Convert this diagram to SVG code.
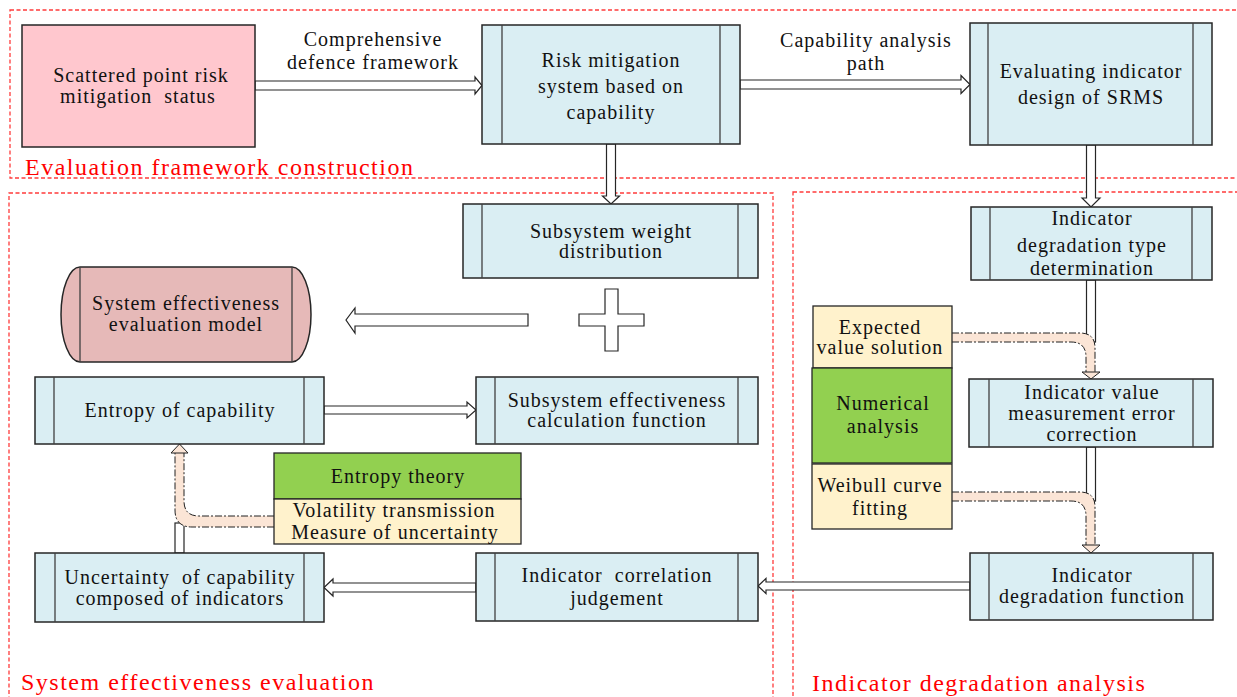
<svg xmlns="http://www.w3.org/2000/svg" width="1237" height="697" viewBox="0 0 1237 697">
  <style>
    .t { font-family: "Liberation Serif", "Times New Roman", serif; font-size: 20px; fill: #111; text-anchor: middle; letter-spacing: 1px; white-space: pre; }
    .lbl { font-family: "Liberation Serif", "Times New Roman", serif; font-size: 24px; fill: #FF0000; letter-spacing: 1.5px; }
    .region { fill: none; stroke: #FF3B3B; stroke-width: 1.3; stroke-dasharray: 4 2.5; }
    .box { fill: #DAEEF3; stroke: #262626; stroke-width: 1.5; }
    .bar { stroke: #404040; stroke-width: 1.3; }
    .hollow { fill: #FFFFFF; stroke: #262626; stroke-width: 1.2; stroke-linejoin: miter; }
    .band { fill: #FBE5D6; stroke: none; }
    .dashdot { fill: none; stroke: #222; stroke-width: 1; stroke-dasharray: 7 2 2 2; }
    .head { fill: #FBE5D6; stroke: #222; stroke-width: 1; }
  </style>

  <!-- section frames and titles -->
  <g id="regions">
    <rect class="region" x="10" y="10" width="1240" height="168"/>
    <rect class="region" x="9" y="193" width="764" height="520"/>
    <rect class="region" x="793" y="192" width="460" height="520"/>
    <text class="lbl" x="25" y="175">Evaluation framework construction</text>
    <text class="lbl" x="21" y="690">System effectiveness evaluation</text>
    <text class="lbl" x="812" y="691">Indicator degradation analysis</text>
  </g>

  <!-- flows between blocks -->
  <g id="connectors">
    <!-- top row -->
    <polygon class="hollow" points="255,81 475,81 475,77 482,85.5 475,94 475,90 255,90"/>
    <text class="t" x="373" y="46">Comprehensive</text>
    <text class="t" x="373" y="69">defence framework</text>
    <polygon class="hollow" points="740,80 961,80 961,75.5 970,84.5 961,93.5 961,89 740,89"/>
    <text class="t" x="866" y="47">Capability analysis</text>
    <text class="t" x="866" y="70">path</text>
    <!-- downward arrows from the top row -->
    <polygon class="hollow" points="606.5,144 615.5,144 615.5,196 619.5,196 611,204 602.5,196 606.5,196"/>
    <polygon class="hollow" points="1086.5,145 1095.5,145 1095.5,198 1100,198 1091,207 1082,198 1086.5,198"/>
    <!-- right column shafts -->
    <rect class="hollow" x="1086.5" y="280" width="9" height="62"/>
    <rect class="hollow" x="1086.5" y="447" width="9" height="54"/>
    <!-- left column -->
    <polygon class="hollow" points="324,406 467,406 467,402 476,410 467,418 467,414 324,414"/>
    <polygon class="hollow" points="476,583 333,583 333,579 324,587.5 333,596 333,592 476,592"/>
    <polygon class="hollow" points="970,582 766,582 766,578.5 758,586 766,593.5 766,590 970,590"/>
    <rect class="hollow" x="175" y="523" width="9" height="30"/>
    <!-- combination towards the evaluation model -->
    <polygon class="hollow" points="528,314 355,314 355,308 346,320 355,333 355,326 528,326"/>
    <polygon class="hollow" points="605,289 618,289 618,314 644,314 644,326 618,326 618,351 605,351 605,326 579,326 579,314 605,314"/>

    <!-- method bands (upper right) -->
    <path class="band" d="M952,333 H1080 Q1095,333 1095,348 V372 H1086 V357 Q1086,342 1071,342 H952 Z"/>
    <path class="dashdot" d="M952,333 H1080 Q1095,333 1095,348 V372"/>
    <path class="dashdot" d="M952,342 H1071 Q1086,342 1086,357 V372"/>
    <polygon class="head" points="1082,372 1100,372 1091,379"/>
    <!-- method bands (lower right) -->
    <path class="band" d="M952,492 H1080 Q1095,492 1095,507 V545 H1086 V516 Q1086,501 1071,501 H952 Z"/>
    <path class="dashdot" d="M952,492 H1080 Q1095,492 1095,507 V545"/>
    <path class="dashdot" d="M952,501 H1071 Q1086,501 1086,516 V545"/>
    <polygon class="head" points="1082,545 1100,545 1091,553"/>
    <!-- method band (left) -->
    <path class="band" d="M274,516 H199 Q184,516 184,501 V453 H175 V510 Q175,527 192,527 H274 Z"/>
    <path class="dashdot" d="M274,516 H199 Q184,516 184,501 V453"/>
    <path class="dashdot" d="M274,527 H192 Q175,527 175,510 V453"/>
    <polygon class="head" points="171,453 188,453 179.5,444"/>
  </g>

  <!-- evaluation framework construction -->
  <g id="scattered-status">
    <rect x="22" y="25" width="233" height="122" fill="#FFC7CE" stroke="#262626" stroke-width="1.5"/>
    <text class="t" x="141" y="82">Scattered point risk</text>
    <text class="t" x="138" y="103" xml:space="preserve">mitigation  status</text>
  </g>
  <g id="risk-mitigation-system">
    <rect class="box" x="482" y="25" width="258" height="119"/>
    <line class="bar" x1="502" y1="25" x2="502" y2="144"/>
    <line class="bar" x1="720" y1="25" x2="720" y2="144"/>
    <text class="t" x="611" y="67">Risk mitigation</text>
    <text class="t" x="611" y="93">system based on</text>
    <text class="t" x="611" y="119">capability</text>
  </g>
  <g id="indicator-design">
    <rect class="box" x="970" y="23" width="242" height="122"/>
    <line class="bar" x1="988" y1="23" x2="988" y2="145"/>
    <line class="bar" x1="1193" y1="23" x2="1193" y2="145"/>
    <text class="t" x="1091" y="78">Evaluating indicator</text>
    <text class="t" x="1091" y="104">design of SRMS</text>
  </g>

  <!-- system effectiveness evaluation -->
  <g id="subsystem-weight">
    <rect class="box" x="463" y="204" width="295" height="74"/>
    <line class="bar" x1="482" y1="204" x2="482" y2="278"/>
    <line class="bar" x1="738" y1="204" x2="738" y2="278"/>
    <text class="t" x="611" y="238">Subsystem weight</text>
    <text class="t" x="611" y="258">distribution</text>
  </g>
  <g id="evaluation-model">
    <path d="M80,267 H292 A19,47.5 0 0 1 292,362 H80 A19,47.5 0 0 1 80,267 Z" fill="#E6B9B8" stroke="#262626" stroke-width="1.5"/>
    <line class="bar" x1="80" y1="267" x2="80" y2="362"/>
    <line class="bar" x1="292" y1="267" x2="292" y2="362"/>
    <text class="t" x="186" y="310">System effectiveness</text>
    <text class="t" x="186" y="331">evaluation model</text>
  </g>
  <g id="entropy-capability">
    <rect class="box" x="35" y="377" width="289" height="67"/>
    <line class="bar" x1="54" y1="377" x2="54" y2="444"/>
    <line class="bar" x1="304" y1="377" x2="304" y2="444"/>
    <text class="t" x="180" y="417">Entropy of capability</text>
  </g>
  <g id="subsystem-effectiveness">
    <rect class="box" x="476" y="377" width="282" height="67"/>
    <line class="bar" x1="495" y1="377" x2="495" y2="444"/>
    <line class="bar" x1="738" y1="377" x2="738" y2="444"/>
    <text class="t" x="617" y="407">Subsystem effectiveness</text>
    <text class="t" x="617" y="427">calculation function</text>
  </g>
  <g id="entropy-theory">
    <rect x="274" y="453" width="247" height="46" fill="#92D050" stroke="#262626" stroke-width="1.3"/>
    <rect x="274" y="499" width="247" height="45" fill="#FFF2CC" stroke="#262626" stroke-width="1.3"/>
    <text class="t" x="398" y="483">Entropy theory</text>
    <text class="t" x="394" y="517">Volatility transmission</text>
    <text class="t" x="395" y="539">Measure of uncertainty</text>
  </g>
  <g id="capability-uncertainty">
    <rect class="box" x="35" y="553" width="289" height="69"/>
    <line class="bar" x1="55" y1="553" x2="55" y2="622"/>
    <line class="bar" x1="304" y1="553" x2="304" y2="622"/>
    <text class="t" x="180" y="584" xml:space="preserve">Uncertainty  of capability</text>
    <text class="t" x="180" y="605">composed of indicators</text>
  </g>
  <g id="correlation-judgement">
    <rect class="box" x="476" y="553" width="282" height="68"/>
    <line class="bar" x1="495" y1="553" x2="495" y2="621"/>
    <line class="bar" x1="738" y1="553" x2="738" y2="621"/>
    <text class="t" x="617" y="582" xml:space="preserve">Indicator  correlation</text>
    <text class="t" x="617" y="605">judgement</text>
  </g>

  <!-- indicator degradation analysis -->
  <g id="degradation-type">
    <rect class="box" x="971" y="207" width="241" height="73"/>
    <line class="bar" x1="990" y1="207" x2="990" y2="280"/>
    <line class="bar" x1="1192" y1="207" x2="1192" y2="280"/>
    <text class="t" x="1092" y="225">Indicator</text>
    <text class="t" x="1092" y="252">degradation type</text>
    <text class="t" x="1092" y="275">determination</text>
  </g>
  <g id="expected-value">
    <rect x="813" y="306" width="139" height="62" fill="#FFF2CC" stroke="#262626" stroke-width="1.3"/>
    <text class="t" x="880" y="334">Expected</text>
    <text class="t" x="880" y="354">value solution</text>
  </g>
  <g id="numerical-analysis">
    <rect x="812" y="368" width="140" height="95" fill="#92D050" stroke="#262626" stroke-width="1.3"/>
    <text class="t" x="883" y="410">Numerical</text>
    <text class="t" x="883" y="433">analysis</text>
  </g>
  <g id="weibull-fitting">
    <rect x="812" y="464" width="140" height="65" fill="#FFF2CC" stroke="#262626" stroke-width="1.3"/>
    <text class="t" x="880" y="492">Weibull curve</text>
    <text class="t" x="880" y="515">fitting</text>
  </g>
  <g id="error-correction">
    <rect class="box" x="969" y="379" width="244" height="68"/>
    <line class="bar" x1="989" y1="379" x2="989" y2="447"/>
    <line class="bar" x1="1193" y1="379" x2="1193" y2="447"/>
    <text class="t" x="1092" y="399">Indicator value</text>
    <text class="t" x="1092" y="420">measurement error</text>
    <text class="t" x="1092" y="441">correction</text>
  </g>
  <g id="degradation-function">
    <rect class="box" x="970" y="553" width="243" height="67"/>
    <line class="bar" x1="989" y1="553" x2="989" y2="620"/>
    <line class="bar" x1="1193" y1="553" x2="1193" y2="620"/>
    <text class="t" x="1092" y="582">Indicator</text>
    <text class="t" x="1092" y="603">degradation function</text>
  </g>
</svg>
